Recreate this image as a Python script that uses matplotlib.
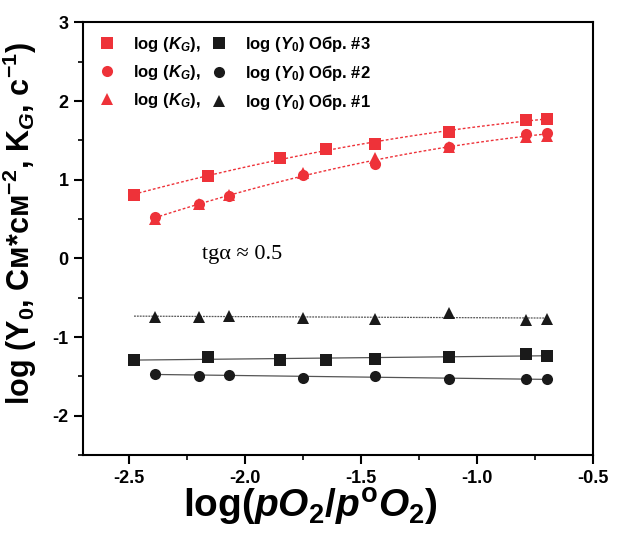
import numpy as np
import matplotlib
matplotlib.use("Agg")
import matplotlib.pyplot as plt
from matplotlib.lines import Line2D
from matplotlib.ticker import MultipleLocator

plt.rcParams['font.family'] = ['Liberation Sans', 'DejaVu Sans']
plt.rcParams['font.weight'] = 'bold'
plt.rcParams['axes.labelweight'] = 'bold'
plt.rcParams['mathtext.fontset'] = 'custom'
plt.rcParams['mathtext.rm'] = 'Liberation Sans:bold'
plt.rcParams['mathtext.it'] = 'Liberation Sans:italic:bold'
plt.rcParams['mathtext.bf'] = 'Liberation Sans:bold'

# log(pO2/p°O2) for each sample
x_s3 = [-2.48, -2.16, -1.85, -1.65, -1.44, -1.12, -0.79, -0.70]
x_s12 = [-2.39, -2.20, -2.07, -1.75, -1.44, -1.12, -0.79, -0.70]

# log(K_G)
kg_s3 = [0.81, 1.05, 1.27, 1.39, 1.46, 1.61, 1.76, 1.77]
kg_s2 = [0.53, 0.69, 0.79, 1.06, 1.20, 1.41, 1.58, 1.60]
kg_s1 = [0.50, 0.69, 0.80, 1.08, 1.27, 1.42, 1.54, 1.56]

# log(Y0)
y0_s3 = [-1.29, -1.25, -1.29, -1.29, -1.28, -1.26, -1.21, -1.24]
y0_s2 = [-1.47, -1.49, -1.48, -1.52, -1.49, -1.535, -1.535, -1.535]
y0_s1 = [-0.74, -0.74, -0.73, -0.756, -0.77, -0.69, -0.78, -0.77]

xticks = [-2.5, -2.0, -1.5, -1.0, -0.5]
yticks = [-2, -1, 0, 1, 2, 3]

RED = '#ee3239'
BLK = '#1a1a1a'

fig = plt.figure(figsize=(6.42, 5.6), dpi=100)
ax = fig.add_axes([0.1293, 0.1875, 0.7944, 0.7725])


def fit_line(x, y, deg, color, ls, lw, x0=None):
    x = np.asarray(x)
    c = np.polyfit(x, y, deg)
    lo = x.min() if x0 is None else x0
    xx = np.linspace(lo, x.max(), 100)
    ax.plot(xx, np.polyval(c, xx), color=color, ls=ls, lw=lw, zorder=1)


# K_G trends (dotted red)
fit_line(x_s3, kg_s3, 2, RED, (0, (2, 1.5)), 1.0)
fit_line(np.r_[x_s12, x_s12], np.r_[kg_s2, kg_s1], 2, RED, (0, (2, 1.5)), 1.0)
# Y0 trends (thin dark lines)
fit_line(x_s3, y0_s3, 1, '#555555', '-', 0.9)
fit_line(x_s12, y0_s2, 1, '#555555', '-', 0.9)
fit_line(x_s12, y0_s1, 1, '#555555', (0, (1.5, 0.8)), 0.9, x0=min(x_s3))

ms = 8
ax.plot(x_s3, kg_s3, 's', color=RED, ms=ms, mew=0, zorder=3)
ax.plot(x_s12, kg_s2, 'o', color=RED, ms=ms, mew=0, zorder=3)
ax.plot(x_s12, kg_s1, '^', color=RED, ms=ms, mew=0, zorder=3)
ax.plot(x_s3, y0_s3, 's', color=BLK, ms=ms, mew=0, zorder=3)
ax.plot(x_s12, y0_s2, 'o', color=BLK, ms=ms, mew=0, zorder=3)
ax.plot(x_s12, y0_s1, '^', color=BLK, ms=ms, mew=0, zorder=3)

ax.set_xlim(-2.7, -0.5)
ax.set_ylim(-2.5, 3)
ax.set_xticks(xticks)
ax.set_xticklabels([f'{v:.1f}' for v in xticks])
ax.set_yticks(yticks)
ax.set_yticklabels([f'{v:d}' for v in yticks])
ax.xaxis.set_minor_locator(MultipleLocator(0.25))
ax.yaxis.set_minor_locator(MultipleLocator(0.5))
ax.tick_params(which='major', direction='out', length=6.5, width=1.5,
               labelsize=13, pad=4, top=False, right=False)
ax.tick_params(which='minor', direction='out', length=3.5, width=1.2,
               top=False, right=False)
for s in ax.spines.values():
    s.set_linewidth(1.5)

ax.set_xlabel(r'log($\mathit{pO}_{\mathrm{2}}$/$\mathit{p}^{\mathrm{o}}\mathit{O}_{\mathrm{2}}$)',
              fontsize=28, fontweight='bold')
ax.xaxis.set_label_coords(0.446, -0.072, transform=ax.transAxes)
ax.xaxis.label.set_va('top')
ax.set_ylabel(r'log (Y$_0$, См*см$^{-2}$, K$_G$, с$^{-1}$)', fontsize=22,
              fontweight='bold')
ax.yaxis.set_label_coords(-0.086, 0.535, transform=ax.transAxes)

ax.text(-2.015, 0.05, 'tgα ≈ 0.5', fontsize=16, fontweight='normal',
        family='Liberation Serif', ha='center', va='center')

handles = [
    Line2D([], [], ls='none', marker='s', color=RED, ms=ms, mew=0),
    Line2D([], [], ls='none', marker='o', color=RED, ms=ms, mew=0),
    Line2D([], [], ls='none', marker='^', color=RED, ms=ms, mew=0),
    Line2D([], [], ls='none', marker='s', color=BLK, ms=ms, mew=0),
    Line2D([], [], ls='none', marker='o', color=BLK, ms=ms, mew=0),
    Line2D([], [], ls='none', marker='^', color=BLK, ms=ms, mew=0),
]
labels = [r'log ($K_G$),'] * 3 + [r'log ($Y_0$) Обр. #3', r'log ($Y_0$) Обр. #2',
                                  r'log ($Y_0$) Обр. #1']
ax.legend(handles, labels, ncol=2, loc='upper left', bbox_to_anchor=(0.031, 0.974),
          frameon=False, fontsize=12, borderpad=0, borderaxespad=0,
          handlelength=1.0, handletextpad=1.06, columnspacing=0.6, labelspacing=0.55)

fig.savefig('out.png', dpi=100)
